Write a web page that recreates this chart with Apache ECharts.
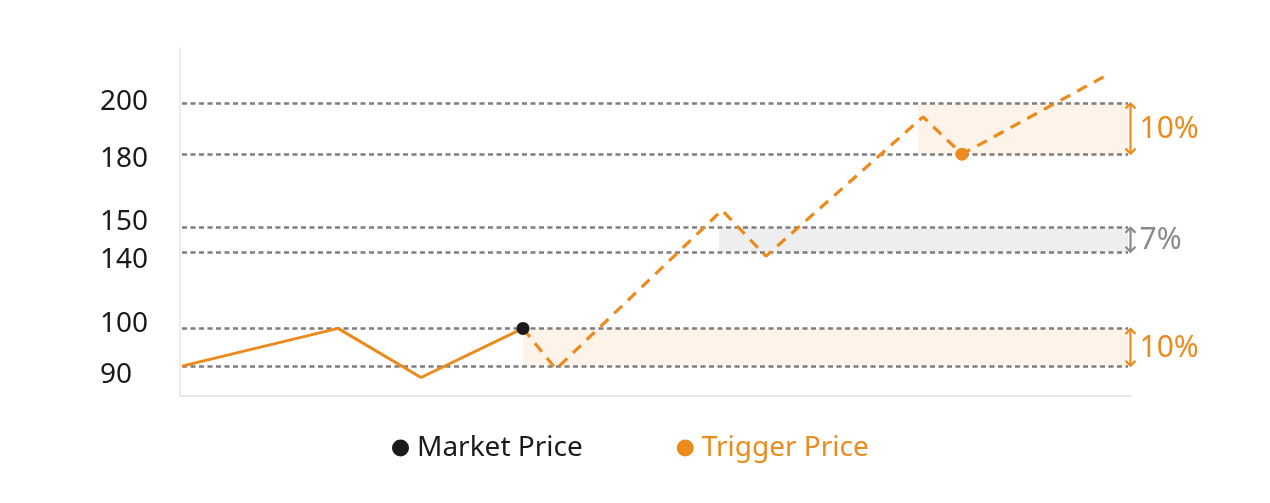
<!DOCTYPE html>
<html>
<head>
<meta charset="utf-8">
<script src="https://cdn.jsdelivr.net/npm/echarts@6/dist/echarts.min.js"></script>
<style>
html,body{margin:0;padding:0;background:#fff;}
#chart{width:1270px;height:503px;}
</style>
</head>
<body>
<div id="chart"></div>
<script>
// ---- data ----
const guidePrices = [90, 100, 140, 150, 180, 200];
// display-scale positions of the price guides (the reference axis is not linear)
const guideLevels = [29.3, 67, 143, 168, 241, 292];
const tickLabels = ['90', '100', '140', '150', '180', '200'];
const tickLabelNudge = [-9, 4.5, -7.5, 5, -4.5, 1];

const marketX = [0.2, 15.8, 24.1, 34.3];
const marketPrices = [90, 100, 87, 100];
const triggerX = [34.3, 37.6, 54.2, 58.6, 74.3, 78.2, 92.7];
const triggerPrices = [100, 89.2, 157, 138, 194.6, 180, 211];

const marketDot = [34.3, 100];
const triggerDot = [78.2, 180];

const bandLow = [90, 140, 180];
const bandHigh = [100, 150, 200];
const bandStartX = [34.3, 53.9, 73.8];
const bandLabels = ['10%', '7%', '10%'];
const bandKinds = ['orange', 'gray', 'orange'];

// ---- styles ----
const ORANGE = '#EC8A1C';
const GRAY = '#8a8a8a';
const X_MAX = 95.1;
const Y_MAX = 347;
const GUIDE_END_X = 94.8;
const ARROW_X = 95.05;
const FONT = 'Noto Sans';

function level(p) {
  const n = guidePrices.length;
  let i = 0;
  if (p <= guidePrices[0]) i = 0;
  else if (p >= guidePrices[n - 1]) i = n - 2;
  else { while (p > guidePrices[i + 1]) i++; }
  const p0 = guidePrices[i], p1 = guidePrices[i + 1];
  const l0 = guideLevels[i], l1 = guideLevels[i + 1];
  return l0 + (p - p0) * (l1 - l0) / (p1 - p0);
}

const labelValues = guidePrices.map((p, i) => +(level(p) + tickLabelNudge[i]).toFixed(2));
const labelMap = {};
labelValues.forEach((v, i) => { labelMap[v] = tickLabels[i]; });

const marketLine = marketX.map((x, i) => [x, level(marketPrices[i])]);
const triggerLine = triggerX.map((x, i) => [x, level(triggerPrices[i])]);

const bandColors = { orange: '#FEF3E8', gray: '#EEEEF1' };
const markAreaData = bandLow.map((lo, i) => [
  { coord: [bandStartX[i], level(lo)], itemStyle: { color: bandColors[bandKinds[i]] } },
  { coord: [GUIDE_END_X, level(bandHigh[i])] }
]);
const markLineData = guidePrices.map(p => [
  { coord: [0.2, level(p)] },
  { coord: [GUIDE_END_X, level(p)] }
]);
const arrowData = bandLow.map((lo, i) => [ARROW_X, level(lo), level(bandHigh[i]), i]);

const chart = echarts.init(document.getElementById('chart'), null, { renderer: 'canvas' });
chart.setOption({
  animation: false,
  backgroundColor: '#fff',
  textStyle: { fontFamily: FONT },
  grid: { left: 180, right: 1270 - 1131, top: 48, bottom: 503 - 395.5 },
  xAxis: {
    type: 'value', min: 0, max: X_MAX,
    axisLine: { show: true, lineStyle: { color: '#e8e8e8', width: 2 } },
    axisTick: { show: false }, axisLabel: { show: false }, splitLine: { show: false }
  },
  yAxis: {
    type: 'value', min: 0, max: Y_MAX,
    axisLine: { show: true, lineStyle: { color: '#ececec', width: 2 } },
    axisTick: { show: false }, splitLine: { show: false },
    axisLabel: {
      customValues: labelValues,
      align: 'left', margin: 80,
      color: '#1a1a1a', fontSize: 28, fontFamily: FONT,
      formatter: v => labelMap[+(+v).toFixed(2)] || ''
    }
  },
  legend: {
    data: [
      { name: 'Market Price', textStyle: { color: '#1a1a1a' } },
      { name: 'Trigger Price', textStyle: { color: ORANGE } }
    ],
    left: 387, top: 429,
    icon: 'circle', itemWidth: 17, itemHeight: 17, itemGap: 94,
    textStyle: { fontSize: 28, fontFamily: FONT, padding: [0, 0, 0, 3] }
  },
  series: [
    {
      type: 'line', name: 'market-path', data: marketLine,
      showSymbol: false, silent: true,
      lineStyle: { color: ORANGE, width: 3 },
      z: 3,
      markArea: { silent: true, data: markAreaData, z: 1 },
      markLine: {
        silent: true, symbol: ['none', 'none'], label: { show: false },
        lineStyle: { color: '#7e7e7e', width: 2.5, type: [5, 3.5] },
        data: markLineData, z: 2
      }
    },
    {
      type: 'line', name: 'trigger-path', data: triggerLine,
      showSymbol: false, silent: true,
      lineStyle: { color: ORANGE, width: 3.2, type: [11, 8] },
      z: 3
    },
    {
      type: 'scatter', name: 'Market Price', data: [[marketDot[0], level(marketDot[1])]],
      symbol: 'circle', symbolSize: 13, itemStyle: { color: '#1a1a1a', opacity: 1 }, z: 5
    },
    {
      type: 'scatter', name: 'Trigger Price', data: [[triggerDot[0], level(triggerDot[1])]],
      symbol: 'circle', symbolSize: 13, itemStyle: { color: ORANGE, opacity: 1 }, z: 5
    },
    {
      type: 'custom', name: 'band-arrows', clip: false, silent: true, z: 4,
      data: arrowData,
      encode: { x: 0, y: [1, 2] },
      renderItem: function (params, api) {
        const x = api.value(0);
        const lo = api.coord([x, api.value(1)]);
        const hi = api.coord([x, api.value(2)]);
        const idx = api.value(3);
        const color = bandKinds[idx] === 'orange' ? ORANGE : GRAY;
        const h = 5.5, w = 5;
        const cx = lo[0];
        return {
          type: 'group',
          children: [
            { type: 'line', shape: { x1: cx, y1: lo[1] - 1, x2: cx, y2: hi[1] + 1 },
              style: { stroke: color, lineWidth: 2.2 } },
            { type: 'polyline', shape: { points: [[cx - w, hi[1] + h], [cx, hi[1] + 0.5], [cx + w, hi[1] + h]] },
              style: { stroke: color, lineWidth: 2.2, fill: null } },
            { type: 'polyline', shape: { points: [[cx - w, lo[1] - h], [cx, lo[1] - 0.5], [cx + w, lo[1] - h]] },
              style: { stroke: color, lineWidth: 2.2, fill: null } },
            { type: 'text',
              style: { text: bandLabels[idx], x: cx + 9, y: (lo[1] + hi[1]) / 2 + 1,
                fill: color, fontSize: 30, fontFamily: FONT, align: 'left', verticalAlign: 'middle' } }
          ]
        };
      }
    }
  ]
});
</script>
</body>
</html>
